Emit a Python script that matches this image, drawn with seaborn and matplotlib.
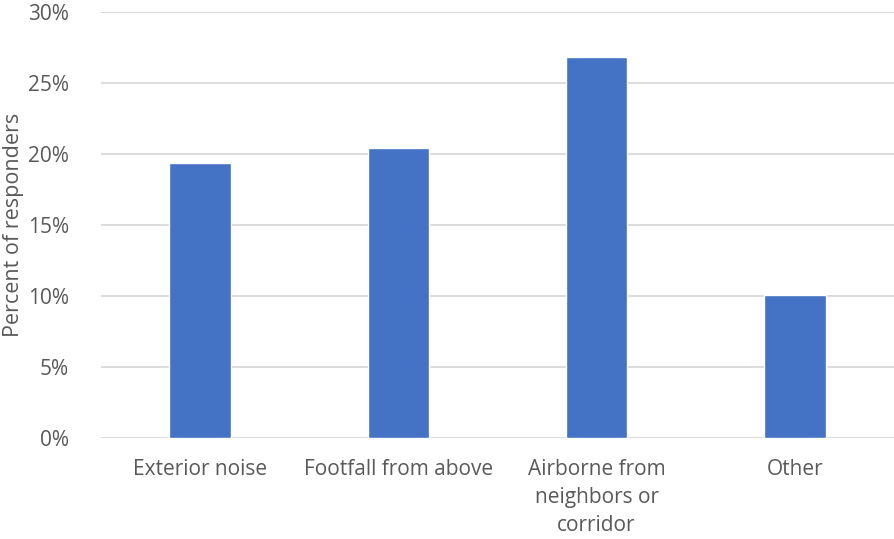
import matplotlib
matplotlib.use("Agg")
import matplotlib.pyplot as plt
import seaborn as sns
import pandas as pd
from matplotlib.ticker import FuncFormatter

categories = ["Exterior noise", "Footfall from above", "Airborne from\nneighbors or\ncorridor", "Other"]
percent = [19.35, 20.4, 26.8, 10.07]
yticks = [0, 5, 10, 15, 20, 25, 30]

sns.set_theme(style="white")
plt.rcParams["font.family"] = ["Open Sans", "DejaVu Sans"]

df = pd.DataFrame({"category": categories, "percent": percent})

fig = plt.figure(figsize=(8.95, 5.39), dpi=100)
ax = fig.add_axes([101 / 895, 101 / 539, 793 / 895, 426 / 539])

sns.barplot(data=df, x="category", y="percent", color="#4472C4", width=0.31,
            saturation=1, ax=ax, zorder=3)

ax.set_ylim(0, 30)
ax.set_xlim(-0.5, len(categories) - 0.5)
ax.set_yticks(yticks)
ax.yaxis.set_major_formatter(FuncFormatter(lambda v, _: f"{v:.0f}%"))
ax.grid(axis="y", color="#d9d9d9", linewidth=1.3, zorder=0)
ax.grid(axis="x", visible=False)
for s in ax.spines.values():
    s.set_visible(False)

ax.tick_params(axis="both", length=0, labelsize=15, labelcolor="#595959")
ax.tick_params(axis="y", pad=23)
ax.tick_params(axis="x", pad=15)
for lbl in ax.get_xticklabels():
    lbl.set_linespacing(1.45)
ax.set_xlabel("")
ax.set_ylabel("Percent of responders", fontsize=15.5, color="#595959")
ax.yaxis.set_label_coords(-77 / 793, 0.5)

fig.savefig("out.png", dpi=100)
